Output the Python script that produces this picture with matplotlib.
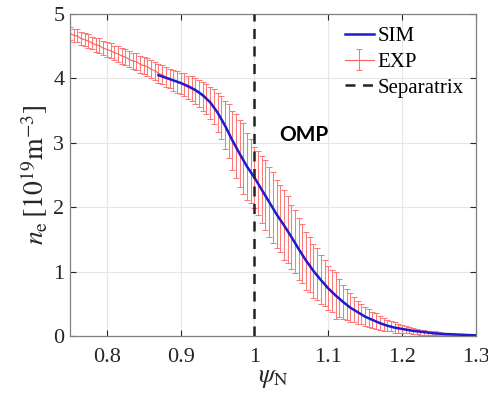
import matplotlib
matplotlib.use("Agg")
import matplotlib.pyplot as plt
from matplotlib.font_manager import FontProperties

# ---- data ----
exp_psi = [0.750, 0.755, 0.760, 0.765, 0.770, 0.775, 0.780, 0.785, 0.790, 0.795,
           0.800, 0.805, 0.810, 0.815, 0.820, 0.825, 0.830, 0.835, 0.840, 0.845,
           0.850, 0.855, 0.860, 0.865, 0.870, 0.875, 0.880, 0.885, 0.890, 0.895,
           0.900, 0.905, 0.910, 0.915, 0.920, 0.925, 0.930, 0.935, 0.940, 0.945,
           0.950, 0.955, 0.960, 0.965, 0.970, 0.975, 0.980, 0.985, 0.990, 0.995,
           1.000, 1.005, 1.010, 1.015, 1.020, 1.025, 1.030, 1.035, 1.040, 1.045,
           1.050, 1.055, 1.060, 1.065, 1.070, 1.075, 1.080, 1.085, 1.090, 1.095,
           1.100, 1.105, 1.110, 1.115, 1.120, 1.125, 1.130, 1.135, 1.140, 1.145,
           1.150, 1.155, 1.160, 1.165, 1.170, 1.175, 1.180, 1.185, 1.190, 1.195,
           1.200, 1.205, 1.210, 1.215, 1.220, 1.225, 1.230, 1.235, 1.240, 1.245,
           1.250, 1.255, 1.260, 1.265, 1.270]
exp_ne = [4.70, 4.67, 4.66, 4.62, 4.60, 4.58, 4.55, 4.52, 4.51, 4.47,
          4.45, 4.43, 4.40, 4.38, 4.35, 4.33, 4.30, 4.27, 4.26, 4.22,
          4.20, 4.18, 4.14, 4.12, 4.08, 4.06, 4.02, 4.00, 3.97, 3.95,
          3.92, 3.90, 3.86, 3.84, 3.80, 3.77, 3.72, 3.68, 3.62, 3.56,
          3.47, 3.39, 3.28, 3.18, 3.04, 2.95, 2.83, 2.75, 2.63, 2.56,
          2.46, 2.38, 2.27, 2.19, 2.08, 2.00, 1.89, 1.82, 1.72, 1.65,
          1.54, 1.47, 1.35, 1.28, 1.17, 1.11, 1.01, 0.96, 0.87, 0.82,
          0.74, 0.70, 0.63, 0.59, 0.53, 0.49, 0.44, 0.41, 0.37, 0.34,
          0.30, 0.28, 0.25, 0.23, 0.20, 0.18, 0.16, 0.15, 0.13, 0.12,
          0.11, 0.10, 0.09, 0.08, 0.07, 0.06, 0.06, 0.05, 0.05, 0.04,
          0.04, 0.03, 0.03, 0.03, 0.02]
exp_err = [0.10, 0.10, 0.10, 0.10, 0.10, 0.11, 0.10, 0.11, 0.11, 0.11,
           0.11, 0.12, 0.11, 0.12, 0.12, 0.12, 0.13, 0.12, 0.13, 0.13,
           0.13, 0.14, 0.14, 0.14, 0.15, 0.15, 0.16, 0.15, 0.16, 0.17,
           0.17, 0.18, 0.18, 0.19, 0.20, 0.21, 0.22, 0.24, 0.25, 0.27,
           0.30, 0.33, 0.37, 0.42, 0.46, 0.50, 0.52, 0.55, 0.52, 0.50,
           0.48, 0.50, 0.52, 0.54, 0.55, 0.55, 0.53, 0.52, 0.54, 0.52,
           0.50, 0.49, 0.48, 0.46, 0.45, 0.43, 0.42, 0.40, 0.38, 0.36,
           0.34, 0.33, 0.36, 0.30, 0.26, 0.24, 0.22, 0.20, 0.18, 0.16,
           0.15, 0.14, 0.13, 0.12, 0.11, 0.10, 0.09, 0.08, 0.08, 0.07,
           0.06, 0.06, 0.05, 0.05, 0.04, 0.04, 0.04, 0.03, 0.03, 0.03,
           0.02, 0.02, 0.02, 0.02, 0.01]

sim_psi = [0.870, 0.880, 0.890, 0.900, 0.910, 0.920, 0.930, 0.940, 0.950, 0.960,
           0.970, 0.980, 0.990, 1.000, 1.010, 1.020, 1.030, 1.040, 1.050, 1.060,
           1.070, 1.080, 1.090, 1.100, 1.110, 1.120, 1.130, 1.140, 1.150, 1.160,
           1.170, 1.180, 1.190, 1.200, 1.215, 1.230, 1.245, 1.260, 1.280, 1.300]
sim_ne = [4.05, 4.01, 3.97, 3.93, 3.88, 3.82, 3.74, 3.63, 3.47, 3.27,
          3.04, 2.83, 2.63, 2.46, 2.27, 2.08, 1.89, 1.72, 1.54, 1.35,
          1.17, 1.01, 0.87, 0.74, 0.63, 0.53, 0.44, 0.37, 0.30, 0.25,
          0.20, 0.16, 0.13, 0.11, 0.08, 0.06, 0.04, 0.03, 0.02, 0.01]

separatrix = 1.0
xticks = [0.8, 0.9, 1.0, 1.1, 1.2, 1.3]
xticklabels = ["0.8", "0.9", "1", "1.1", "1.2", "1.3"]
yticks = [0, 1, 2, 3, 4, 5]
yticklabels = ["0", "1", "2", "3", "4", "5"]

# ---- figure ----
plt.rcParams['font.family'] = 'serif'
plt.rcParams['font.serif'] = ['Liberation Serif', 'DejaVu Serif']
plt.rcParams['mathtext.fontset'] = 'stix'

fig = plt.figure(figsize=(4.89, 4.0), dpi=100)
ax = fig.add_axes([0.143, 0.16, 0.83, 0.805])

ax.grid(True, color='#e6e6e6', linewidth=0.8, zorder=0)
ax.set_axisbelow(True)

eb = ax.errorbar(exp_psi, exp_ne, yerr=exp_err, color='#ff5c5c', ecolor='#ff7878',
                 linewidth=0.8, elinewidth=0.75, capsize=2.5, capthick=0.75,
                 label='EXP', zorder=2)
sim_line, = ax.plot(sim_psi, sim_ne, color='#1c1cd0', linewidth=1.8, label='SIM', zorder=3)
sep_line = ax.axvline(separatrix, color='#222222', linestyle=(0, (4, 3)), linewidth=1.8,
                      label='Separatrix', zorder=4)

ax.text(1.033, 3.12, 'OMP', fontsize=15, fontweight='bold', family='Lato',
        ha='left', va='center', color='black')

ax.set_xlim(0.75, 1.3)
ax.set_ylim(0, 5)
ax.set_xticks(xticks)
ax.set_xticklabels(xticklabels)
ax.set_yticks(yticks)
ax.set_yticklabels(yticklabels)
ax.tick_params(direction='in', top=True, right=True, colors='#262626',
               length=4, width=0.8)
ax.tick_params(axis='x', pad=9)
ax.tick_params(axis='y', pad=4)
tick_fp = FontProperties(family='Liberation Serif', size=16)
for lbl in ax.get_xticklabels() + ax.get_yticklabels():
    lbl.set_fontproperties(tick_fp)
for s in ax.spines.values():
    s.set_color('#808080')
    s.set_linewidth(0.9)

ax.set_xlabel(r'$\psi_{\mathrm{N}}$', fontsize=19, labelpad=0, color='#262626')
ax.set_ylabel(r'$n_{\mathrm{e}}\,[10^{19}\mathrm{m}^{-3}]$', fontsize=20, labelpad=2,
              color='#262626')

leg = ax.legend(handles=[sim_line, eb, sep_line], loc='upper right',
                bbox_to_anchor=(1.0, 1.0), frameon=False,
                prop=FontProperties(family='Liberation Serif', size=15),
                handlelength=1.4, handletextpad=0.15, labelspacing=0.3,
                borderaxespad=0.2)

fig.savefig('out.png', dpi=100)
